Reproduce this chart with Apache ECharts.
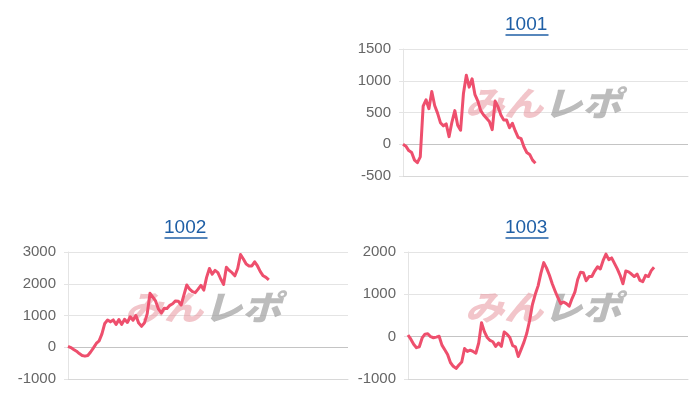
<!DOCTYPE html>
<html>
<head>
<meta charset="utf-8">
<script src="https://cdn.jsdelivr.net/npm/echarts@6/dist/echarts.min.js"></script>
<style>html,body{margin:0;padding:0;background:#fff}#c{width:700px;height:402px}</style>
</head>
<body>
<div id="c"></div>
<script>
// ---- data ----
const categories = Array.from({length: 100}, (_, i) => String(i + 1));
const titles = ['1001', '1002', '1003'];
const values1001 = [0,-30,-100,-130,-250,-290,-200,600,700,560,830,610,490,340,290,320,120,350,530,300,220,800,1085,900,1030,780,680,530,460,410,360,230,680,590,460,380,380,260,330,210,110,90,-40,-130,-160,-250,-300];
const values1002 = [30,-10,-70,-125,-200,-260,-280,-260,-150,-20,120,200,420,750,860,800,860,720,870,720,880,780,960,850,1000,760,660,760,1050,1700,1580,1450,1200,1080,1230,1220,1320,1370,1460,1450,1330,1650,1960,1830,1750,1720,1830,1950,1800,2200,2480,2300,2420,2350,2150,1980,2520,2420,2350,2250,2480,2920,2780,2620,2560,2560,2690,2560,2380,2250,2200,2120];
const values1003 = [40,-60,-180,-260,-240,-30,60,70,0,-25,-10,10,-200,-310,-420,-610,-700,-750,-670,-600,-280,-350,-320,-350,-390,-150,330,120,-20,-90,-120,-230,-150,-230,110,60,-20,-210,-240,-470,-300,-130,80,380,760,1000,1200,1500,1750,1620,1450,1250,1080,920,780,820,780,720,900,1050,1350,1520,1510,1320,1420,1420,1550,1650,1600,1800,1950,1820,1860,1730,1600,1450,1250,1550,1530,1480,1420,1480,1330,1300,1450,1420,1560,1640];
const yRanges = [[-500, 1500, 500], [-1000, 3000, 1000], [-1000, 2000, 1000]];
const seriesValues = [values1001, values1002, values1003];

// ---- layout ----
const grids = [
  {left: 403, top: 49, width: 285, height: 127},
  {left: 68, top: 252, width: 280, height: 127},
  {left: 408, top: 252, width: 280, height: 127}
];
const titlePos = [[527, 26], [186, 229], [527, 229]];
const wmPos = [[545, 104], [205, 308], [545, 308]];

const lineColor = '#ee4f6d';
const gridColor = '#e4e4e4';
const fontFam = '"Liberation Sans", Arial, sans-serif';

const option = {
  animation: false,
  grid: grids.map(g => Object.assign({containLabel: false}, g)),
  xAxis: grids.map((g, i) => ({
    type: 'category', gridIndex: i, data: categories, boundaryGap: false,
    axisLine: {show: true, onZero: false, lineStyle: {color: '#d8d8d8', width: 1}},
    axisTick: {show: false}, axisLabel: {show: false}, splitLine: {show: false}
  })),
  yAxis: grids.map((g, i) => ({
    type: 'value', gridIndex: i, min: yRanges[i][0], max: yRanges[i][1], interval: yRanges[i][2],
    axisLine: {show: true, lineStyle: {color: gridColor}},
    axisTick: {show: true, length: 4, lineStyle: {color: gridColor}},
    axisLabel: {color: '#666', fontSize: 15, fontFamily: fontFam, margin: 12, formatter: v => String(v)},
    splitLine: {show: true, lineStyle: {color: gridColor, width: 1}}
  })),
  series: seriesValues.map((vals, i) => ({
    type: 'line', xAxisIndex: i, yAxisIndex: i, data: vals, symbol: 'none',
    lineStyle: {color: lineColor, width: 3, join: 'round'}, z: 5,
    markLine: {silent: true, symbol: 'none', label: {show: false},
      lineStyle: {color: '#c4c4c4', width: 1, type: 'solid'}, data: [{yAxis: 0}], z: 1}
  })),
  graphic: []
};

titles.forEach((t, i) => {
  const [cx, cy] = titlePos[i];
  option.graphic.push({
    type: 'text', left: cx - 22, top: cy - 11, z: 10,
    style: {text: t, fill: '#1f5fa6', font: '19px ' + fontFam}
  });
  option.graphic.push({
    type: 'line', z: 10,
    shape: {x1: cx - 21.5, y1: cy + 9, x2: cx + 21.5, y2: cy + 9},
    style: {stroke: '#1f5fa6', lineWidth: 1.5}
  });
});

wmPos.forEach(([cx, cy]) => {
  option.graphic.push({
    type: 'text', z: 1, x: cx - 80, y: cy - 18, scaleX: 1.15,
    style: {
      text: '{a|みん}{b|レポ}',
      rich: {
        a: {fill: 'rgba(232,150,158,0.55)', font: 'italic 900 34px "Noto Sans CJK JP"'},
        b: {fill: 'rgba(160,160,160,0.7)', font: 'italic 900 34px "Noto Sans CJK JP"'}
      }
    }
  });
});

const chart = echarts.init(document.getElementById('c'), null, {renderer: 'canvas'});
chart.setOption(option);
</script>
</body>
</html>
